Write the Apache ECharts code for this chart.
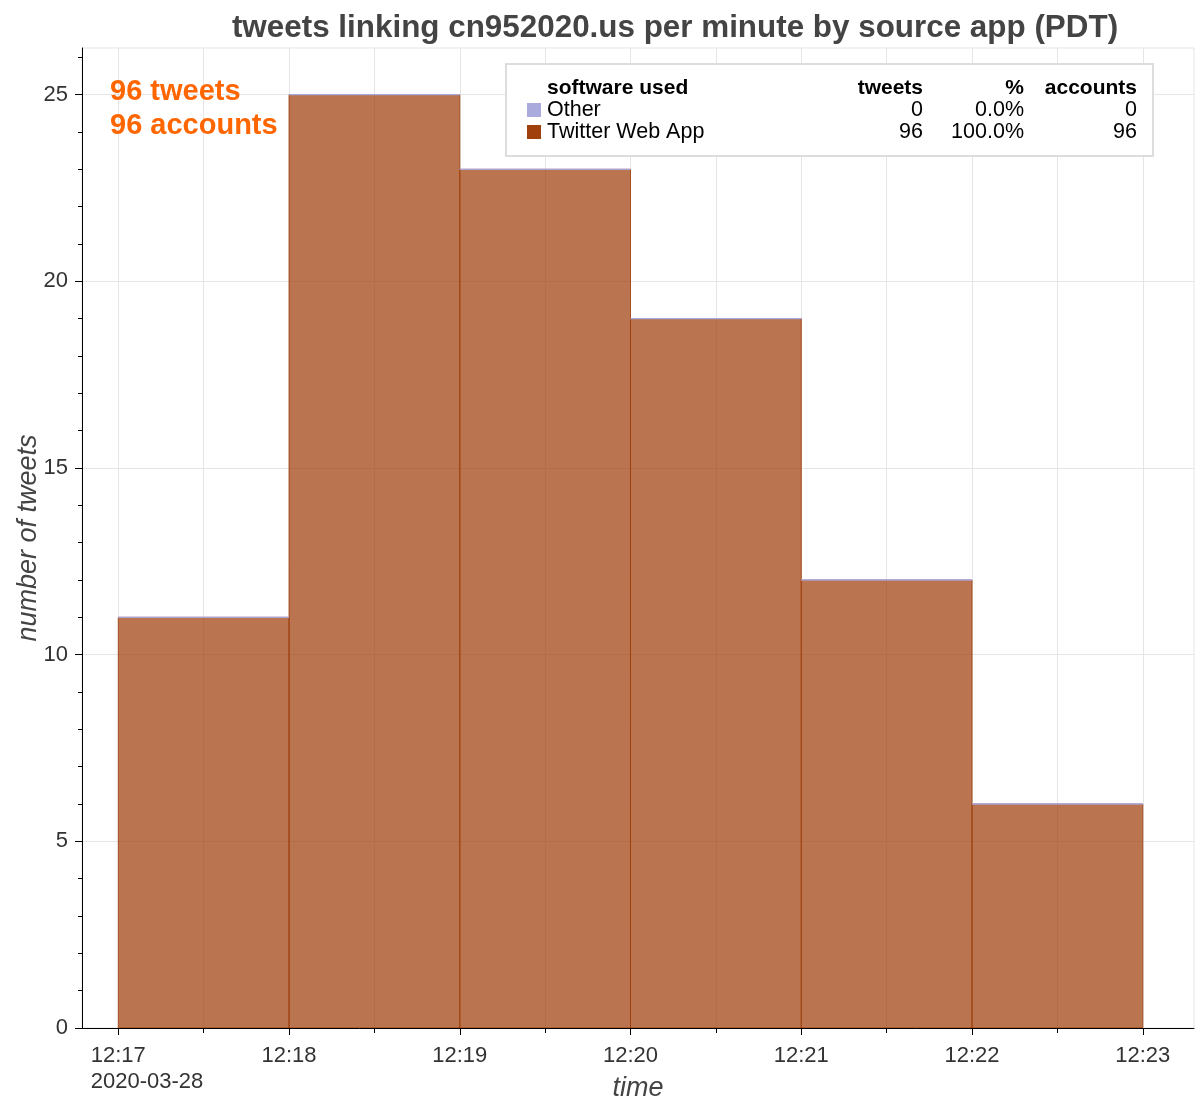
<!DOCTYPE html>
<html>
<head>
<meta charset="utf-8">
<script src="https://cdn.jsdelivr.net/npm/echarts@6/dist/echarts.min.js"></script>
<style>html,body{margin:0;padding:0;background:#fff}#main{width:1200px;height:1108px}</style>
</head>
<body>
<div id="main"></div>
<script>
// ---- data ----
const binStarts = ['12:17', '12:18', '12:19', '12:20', '12:21', '12:22'];
const webAppCounts = [11, 25, 23, 19, 12, 6];
const otherCounts = [0, 0, 0, 0, 0, 0];
const xTickLabels = ['12:17', '12:18', '12:19', '12:20', '12:21', '12:22', '12:23'];
const dateLabel = '2020-03-28';
const yTickValues = [0, 5, 10, 15, 20, 25];
const legendSources = ['Other', 'Twitter Web App'];
const legendTweets = [0, 96];
const legendPct = ['0.0%', '100.0%'];
const legendAccounts = [0, 96];
const totalTweets = 96;
const totalAccounts = 96;
const titleText = 'tweets linking cn952020.us per minute by source app (PDT)';

// ---- helpers ----
const FONT = '"Liberation Sans", Arial, Helvetica, sans-serif';
const toMin = s => { const p = s.split(':'); return (+p[0]) * 60 + (+p[1]); };
const fmtMin = v => { const h = Math.floor(v / 60), m = Math.round(v - h * 60); return h + ':' + String(m).padStart(2, '0'); };
const xTickVals = xTickLabels.map(toMin);
const binW = 1;
const webData = binStarts.map((s, i) => [toMin(s), webAppCounts[i]]);
const otherData = binStarts.map((s, i) => [toMin(s), webAppCounts[i], otherCounts[i]]);

const COLOR_WEB = '#a0410d';
const COLOR_OTHER = '#aaaadd';
const TICK_FONT = 22;

const chart = echarts.init(document.getElementById('main'), null, {renderer: 'canvas'});

function rectItem(params, api, base, h, fill, stroke) {
  const x0 = api.value(0);
  const p0 = api.coord([x0, base]);
  const p1 = api.coord([x0 + binW, base + h]);
  return {
    type: 'rect',
    shape: {x: p0[0], y: p1[1], width: p1[0] - p0[0], height: p0[1] - p1[1]},
    style: {fill: fill, stroke: stroke, lineWidth: 1}
  };
}

const legendGraphics = [
  {type: 'rect', left: 505, top: 63, shape: {width: 647, height: 92}, style: {fill: '#fff', stroke: '#dddddd', lineWidth: 2}, z: 100},
  {type: 'text', x: 547, y: 88, style: {text: 'software used', font: 'bold 21px ' + FONT, fill: '#000', textVerticalAlign: 'middle'}, z: 101},
  {type: 'text', x: 923, y: 88, style: {text: 'tweets', font: 'bold 21px ' + FONT, fill: '#000', textAlign: 'right', textVerticalAlign: 'middle'}, z: 101},
  {type: 'text', x: 1024, y: 88, style: {text: '%', font: 'bold 21px ' + FONT, fill: '#000', textAlign: 'right', textVerticalAlign: 'middle'}, z: 101},
  {type: 'text', x: 1137, y: 88, style: {text: 'accounts', font: 'bold 21px ' + FONT, fill: '#000', textAlign: 'right', textVerticalAlign: 'middle'}, z: 101}
];
const rowColors = [COLOR_OTHER, COLOR_WEB];
legendSources.forEach((src, i) => {
  const y = 110 + i * 22;
  legendGraphics.push(
    {type: 'rect', left: 527, top: y - 7, shape: {width: 14, height: 14}, style: {fill: rowColors[i]}, z: 101},
    {type: 'text', x: 547, y: y, style: {text: src, font: '21.5px ' + FONT, fill: '#000', textVerticalAlign: 'middle'}, z: 101},
    {type: 'text', x: 923, y: y, style: {text: String(legendTweets[i]), font: '21.5px ' + FONT, fill: '#000', textAlign: 'right', textVerticalAlign: 'middle'}, z: 101},
    {type: 'text', x: 1024, y: y, style: {text: legendPct[i], font: '21.5px ' + FONT, fill: '#000', textAlign: 'right', textVerticalAlign: 'middle'}, z: 101},
    {type: 'text', x: 1137, y: y, style: {text: String(legendAccounts[i]), font: '21.5px ' + FONT, fill: '#000', textAlign: 'right', textVerticalAlign: 'middle'}, z: 101}
  );
});

const option = {
  animation: false,
  backgroundColor: '#fff',
  textStyle: {fontFamily: FONT},
  grid: {left: 82, right: 6, top: 48, bottom: 80, show: true, borderColor: '#e5e5e5', borderWidth: 1, containLabel: false, outerBoundsMode: 'none'},
  xAxis: {
    type: 'value',
    min: xTickVals[0] - 0.2125,
    max: xTickVals[xTickVals.length - 1] + 0.3,
    name: 'time',
    nameLocation: 'middle',
    nameGap: 47,
    nameMoveOverlap: false,
    nameTextStyle: {fontSize: 27, fontStyle: 'italic', color: '#444', fontFamily: FONT},
    axisLine: {show: true, onZero: false, lineStyle: {color: '#000', width: 1}},
    axisTick: {show: true, inside: false, length: 7, lineStyle: {color: '#000'}, customValues: xTickVals},
    minorTick: {show: true, splitNumber: 2, length: 5, lineStyle: {color: '#000'}},
    axisLabel: {
      customValues: xTickVals,
      color: '#333', fontSize: TICK_FONT, fontFamily: FONT, margin: 17,
      formatter: v => fmtMin(v)
    },
    splitLine: {show: true, lineStyle: {color: '#e5e5e5', width: 1}},
    minorSplitLine: {show: true, lineStyle: {color: '#e5e5e5', width: 1}}
  },
  yAxis: {
    type: 'value',
    min: 0,
    max: 26.25,
    interval: 5,
    name: 'number of tweets',
    nameLocation: 'middle',
    nameGap: 40,
    nameMoveOverlap: false,
    nameTextStyle: {fontSize: 27, fontStyle: 'italic', color: '#444', fontFamily: FONT},
    axisLine: {show: true, lineStyle: {color: '#000', width: 1}},
    axisTick: {show: true, inside: false, length: 7, lineStyle: {color: '#000'}, customValues: yTickValues},
    minorTick: {show: true, splitNumber: 5, length: 4, lineStyle: {color: '#000'}},
    axisLabel: {customValues: yTickValues, color: '#333', fontSize: TICK_FONT, fontFamily: FONT, margin: 14},
    splitLine: {show: true, lineStyle: {color: '#e5e5e5', width: 1}}
  },
  series: [
    {
      type: 'custom',
      name: 'Twitter Web App',
      clip: true,
      encode: {x: 0, y: 1},
      data: webData,
      renderItem: (params, api) => rectItem(params, api, 0, api.value(1), 'rgba(160,64,13,0.72)', 'rgba(160,64,13,0.85)')
    },
    {
      type: 'custom',
      name: 'Other',
      clip: true,
      encode: {x: 0, y: 1},
      data: otherData,
      renderItem: (params, api) => rectItem(params, api, api.value(1), api.value(2), 'rgba(170,170,221,0.72)', COLOR_OTHER)
    }
  ],
  graphic: [
    {type: 'text', x: 675, y: 28, style: {text: titleText, font: 'bold 31.4px ' + FONT, fill: '#444', textAlign: 'center', textVerticalAlign: 'middle'}},
    {type: 'text', x: 110, y: 92, style: {text: totalTweets + ' tweets', font: 'bold 29px ' + FONT, fill: '#ff6600', textVerticalAlign: 'middle'}, z: 50},
    {type: 'text', x: 110, y: 126, style: {text: totalAccounts + ' accounts', font: 'bold 29px ' + FONT, fill: '#ff6600', textVerticalAlign: 'middle'}, z: 50}
  ].concat(legendGraphics)
};
chart.setOption(option);

// date label under first tick, left-aligned with the first tick label
const ctx = document.createElement('canvas').getContext('2d');
ctx.font = TICK_FONT + 'px ' + FONT;
const firstW = ctx.measureText(fmtMin(xTickVals[0])).width;
const px = chart.convertToPixel({xAxisIndex: 0}, xTickVals[0]);
const py = chart.convertToPixel({yAxisIndex: 0}, 0);
chart.setOption({
  graphic: [{id: 'dateLbl', type: 'text', x: px - firstW / 2, y: py + 54, style: {text: dateLabel, font: TICK_FONT + 'px ' + FONT, fill: '#333', textVerticalAlign: 'middle'}}]
});
</script>
</body>
</html>
